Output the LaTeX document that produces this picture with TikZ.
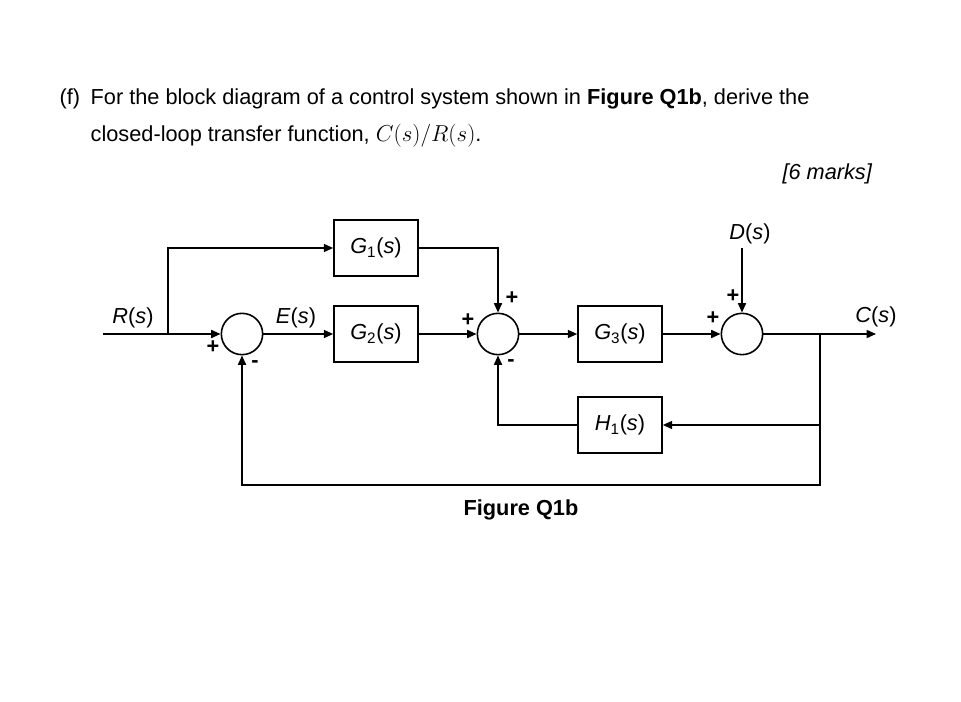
\documentclass[tikz,border=0pt]{standalone}
\usepackage{fontspec}
\setmainfont{Liberation Sans}
\usetikzlibrary{arrows.meta}
\newcommand{\sv}{(\textit{s})}
\begin{document}
\begin{tikzpicture}[x=0.75pt,y=-0.75pt,
    blk/.style={draw, line width=1.2pt, minimum width=63pt, minimum height=42pt, inner sep=0pt},
    sumj/.style={draw, circle, line width=1.2pt, minimum size=31pt, inner sep=0pt},
    sig/.style={line width=1.2pt, -{Triangle[length=7pt,width=6pt]}},
    wire/.style={line width=1.2pt},
    every node/.style={font=\fontsize{16.3}{19}\selectfont}]
    \useasboundingbox (0,0) rectangle (961,702);

    \node[anchor=base west] at (55,105) {(f)};
    \node[anchor=base west] at (86,105) {For the block diagram of a control system shown in \textbf{Figure Q1b}, derive the};
    \node[anchor=base west] at (86,142) {closed-loop transfer function, $C(s)/R(s)$.};
    \node[anchor=base east] at (877,180) {\textit{[6 marks]}};

    \node[blk] (g1) at (376,248) {\textit{G}\textsubscript{1}\sv};
    \node[blk] (g2) at (376,334) {\textit{G}\textsubscript{2}\sv};
    \node[blk] (g3) at (620,334) {\textit{G}\textsubscript{3}\sv};
    \node[blk] (h1) at (620,425) {\textit{H}\textsubscript{1}\sv};
    \node[sumj] (s1) at (242,334) {};
    \node[sumj] (s2) at (498,334) {};
    \node[sumj] (s3) at (742,334) {};

    \coordinate (in) at (103,334);
    \coordinate (b1) at (168,334);
    \coordinate (dist) at (742,248);
    \coordinate (out) at (876,334);
    \coordinate (b2) at (820,334);

    % forward path
    \draw[sig] (in) -- (s1);
    \draw[sig] (s1) -- (g2);
    \draw[sig] (g2) -- (s2);
    \draw[sig] (s2) -- (g3);
    \draw[sig] (g3) -- (s3);
    \draw[sig] (s3) -- (out);
    \draw[sig] (dist) -- (s3);
    \draw[sig] (b1) |- (g1);
    \draw[sig] (g1) -| (s2);
    % feedback paths
    \draw[sig] (b2) |- (h1);
    \draw[sig] (h1) -| (s2);
    \draw[wire] (b2) -- (820,485) -| (242,420);
    \draw[sig] (242,420) -- (s1);

    \node at (133,318) {\textit{R}\sv};
    \node at (296,318) {\textit{E}\sv};
    \node at (750,234) {\textit{D}\sv};
    \node at (876,317) {\textit{C}\sv};
    \node at (213,347) {\textbf{+}};
    \node at (255,364) {\textbf{-}};
    \node at (512,298) {\textbf{+}};
    \node at (468,320) {\textbf{+}};
    \node at (511,363) {\textbf{-}};
    \node at (733,296) {\textbf{+}};
    \node at (713,318) {\textbf{+}};
    \node at (521,510) {\textbf{Figure Q1b}};
\end{tikzpicture}
\end{document}
